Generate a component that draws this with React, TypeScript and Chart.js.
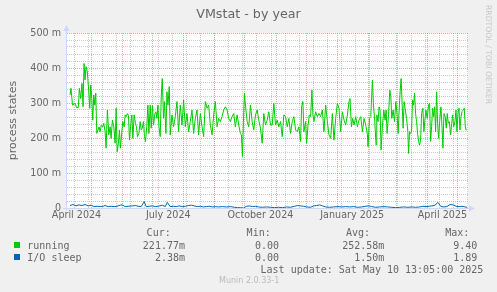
import React, { useEffect, useRef } from 'react';
import { Chart, registerables } from 'chart.js';

Chart.register(...registerables);

// ---- data (x = days since 1 April 2024, y = milli process states) ----
const RUN_DAYS = [
  8.5, 9.5, 11, 13.5, 15, 16.8, 17.8, 19.2, 20.5, 21.5, 22.5, 23.5, 24.5, 25.8, 27.2, 28.2, 29.2, 30.2, 31.2, 32.2,
  33.2, 34.2, 35.2, 36.5, 37.5, 38.5, 39.8, 41.2, 42.2, 43.5, 44.5, 45.8, 47.2, 48.5, 49.5, 50.8, 52.2, 53.5, 54.5, 55.5,
  56.8, 57.8, 58.8, 60.2, 61.2, 62.5, 63.5, 64.5, 65.8, 66.8, 67.8, 69.2, 70.2, 71.2, 72.5, 73.8, 74.8, 75.8, 77.2, 78.5,
  79.5, 80.5, 81.8, 82.8, 83.8, 85.2, 86.2, 87.2, 88.5, 89.5, 90.8, 91.8, 93.2, 94.2, 95.2, 96.2, 97.2, 98.5, 99.5, 100.5,
  101.8, 102.8, 104.2, 105.2, 106.2, 107.5, 108.5, 110.2, 111.8, 113.5, 115.2, 116.8, 118.5, 120.2, 121.8, 123.5, 125.2, 126.8, 128.5, 130.2,
  131.8, 133.5, 135.2, 136.8, 138.5, 140.2, 141.8, 143.5, 145.2, 146.8, 148.5, 150.2, 151.8, 153.5, 155.2, 156.8, 158.5, 160.2, 161.8, 163.5,
  165.2, 166.8, 168.5, 170.2, 171.8, 173.5, 175.2, 176.8, 178.5, 179.5, 180.5, 181.5, 182.5, 183.5, 185.2, 186.8, 188.5, 190.2, 191.8, 193.5,
  195.2, 196.8, 198.5, 200.2, 201.8, 203.5, 205.2, 206.8, 208.5, 210.2, 211.8, 213.5, 215.2, 216.8, 218.5, 220.2, 221.8, 223.5, 225.2, 226.8,
  228.5, 230.2, 231.8, 233.5, 235.2, 236.8, 238.5, 239.5, 240.8, 241.8, 243.5, 244.5, 245.8, 247.2, 248.5, 249.8, 250.8, 251.8, 253.5, 255.2,
  256.8, 258.5, 260.2, 261.8, 263.5, 265.2, 266.8, 268.5, 270.2, 271.8, 273.5, 275.2, 276.8, 278.5, 280.2, 281.8, 283.5, 285.2, 286.8, 287.8,
  289.2, 290.5, 291.8, 293.5, 295.2, 296.8, 298.5, 300.2, 301.8, 303.5, 305.2, 305.8, 307.2, 308.5, 310.2, 311.2, 312.5, 313.8, 314.5, 315.8,
  316.8, 317.8, 318.8, 320.2, 321.5, 322.8, 323.8, 324.8, 326.2, 327.5, 328.5, 329.5, 330.8, 332.2, 333.5, 334.8, 335.8, 336.8, 337.8, 338.8,
  339.8, 340.8, 341.8, 342.8, 344.2, 345.5, 346.2, 347.2, 348.2, 349.2, 350.2, 351.2, 352.2, 353.2, 354.2, 355.2, 356.2, 357.2, 358.2, 359.2,
  360.5, 361.5, 362.5, 363.5, 364.8, 366.2, 367.2, 368.2, 369.2, 370.2, 371.2, 372.2, 373.2, 374.2, 375.2, 376.2, 377.2, 378.5, 379.5, 380.5,
  381.5, 382.8, 383.8, 384.8, 385.8, 386.8, 388.2, 389.2, 390.2, 391.2, 392.5, 393.5, 394.5, 395.5, 396.5, 397.5, 398.5, 399.5, 400.8, 401.8,
  402.8, 403.8,
];
const RUNNING = [
  323, 342, 294, 299, 287, 287, 342, 313, 356, 289, 413, 366, 404, 389, 332, 285, 351, 313, 251, 323,
  294, 328, 213, 223, 232, 218, 237, 232, 242, 218, 171, 280, 209, 232, 199, 251, 232, 185, 285, 161,
  185, 223, 171, 218, 247, 232, 266, 261, 270, 264, 194, 242, 266, 199, 266, 242, 232, 204, 213, 247,
  223, 228, 247, 204, 190, 237, 294, 213, 294, 228, 294, 237, 270, 275, 256, 294, 232, 204, 318, 370,
  256, 304, 213, 332, 294, 347, 209, 266, 232, 261, 304, 218, 294, 237, 309, 232, 270, 218, 247, 280,
  213, 256, 280, 209, 270, 232, 204, 304, 285, 294, 237, 209, 266, 304, 232, 256, 247, 261, 280, 289,
  280, 256, 247, 261, 270, 232, 266, 237, 213, 209, 147, 247, 328, 294, 247, 232, 294, 247, 223, 266,
  280, 251, 228, 185, 270, 237, 251, 275, 237, 237, 299, 237, 251, 232, 247, 204, 266, 261, 232, 256,
  213, 247, 261, 223, 218, 232, 190, 289, 304, 218, 247, 185, 232, 266, 261, 337, 266, 247, 275, 261,
  270, 261, 280, 218, 294, 247, 209, 199, 270, 194, 256, 299, 285, 218, 275, 251, 237, 266, 304, 313,
  232, 256, 237, 261, 232, 251, 261, 218, 256, 237, 209, 175, 256, 261, 366, 294, 247, 180, 266, 247,
  289, 280, 166, 237, 280, 251, 280, 213, 266, 337, 318, 256, 280, 247, 304, 266, 213, 280, 332, 370,
  299, 228, 304, 285, 256, 218, 156, 218, 213, 218, 309, 294, 328, 270, 247, 213, 190, 180, 194, 270,
  285, 218, 251, 280, 256, 294, 299, 190, 232, 285, 261, 289, 218, 332, 242, 199, 247, 289, 237, 171,
  270, 261, 228, 270, 242, 247, 209, 242, 266, 232, 247, 280, 218, 270, 285, 223, 261, 275, 280, 285,
  232, 222,
];

const IO_DAYS = [
  8.5, 11.5, 14.5, 17.5, 20.5, 23.5, 26.5, 29.5, 32.5, 35.5, 38.5, 41.5, 43.5, 46.5, 49.5, 52.5, 55.5, 58.5, 60.5, 63.5,
  66.5, 70.5, 73.5, 76.5, 79.5, 82.5, 84.5, 87.5, 90.5, 93.5, 96.5, 100.5, 103.5, 105.5, 108.5, 111.5, 114.5, 117.5, 120.5, 123.5,
  126.5, 129.5, 132.5, 135.5, 138.5, 141.5, 144.5, 147.5, 150.5, 153.5, 156.5, 160.5, 164.5, 168.5, 172.5, 175.5, 178.5, 181.5, 184.5, 187.5,
  190.5, 193.5, 196.5, 200.5, 204.5, 208.5, 212.5, 216.5, 220.5, 224.5, 228.5, 232.5, 235.5, 238.5, 241.5, 244.5, 248.5, 251.5, 254.5, 257.5,
  260.5, 263.5, 267.5, 271.5, 275.5, 279.5, 283.5, 287.5, 291.5, 295.5, 299.5, 303.5, 306.5, 309.5, 313.5, 317.5, 321.5, 325.5, 329.5, 333.5,
  337.5, 341.5, 345.5, 349.5, 353.5, 357.5, 360.5, 363.5, 366.5, 369.5, 372.5, 375.5, 378.5, 381.5, 384.5, 387.5, 390.5, 393.5, 396.5, 399.5,
  402.5, 404.5,
];
const IO_SLEEP = [
  7, 10, 6, 9, 7, 10, 6, 8, 4, 5, 4, 5, 7, 4, 5, 4, 5, 8, 9, 4,
  5, 6, 7, 5, 4, 18, 4, 5, 6, 4, 5, 8, 4, 16, 4, 5, 4, 6, 4, 5,
  7, 8, 6, 4, 5, 3, 4, 5, 3, 4, 3, 4, 3, 4, 2, 1, 1, 0, 5, 6,
  4, 5, 3, 2, 3, 2, 1, 2, 1, 3, 2, 5, 7, 6, 5, 3, 2, 6, 7, 9,
  6, 3, 2, 3, 4, 3, 4, 3, 4, 2, 3, 5, 6, 4, 2, 3, 4, 3, 2, 1,
  2, 3, 2, 3, 2, 3, 5, 4, 5, 6, 8, 16, 4, 3, 4, 10, 9, 5, 4, 5,
  3, 2,
];

const X_MIN = 5.5;
const X_MAX = 405.5;
const MONTH_STARTS = [30, 61, 91, 122, 153, 183, 214, 244, 275, 306, 334, 365, 395];
const MINOR_DAYS = [13, 27, 41, 55, 69, 83, 97, 111, 125, 139, 153, 167, 181, 195, 209, 223, 237, 251, 265, 279, 293, 307, 321, 335, 349, 363, 377, 391, 405];
const X_TICK_DAYS = [15, 106.5, 198.5, 290, 380];
const X_TICK_LABELS = ['April 2024', 'July 2024', 'October 2024', 'January 2025', 'April 2025'];
const Y_MAX = 500;
const Y_MAJOR = 100;
const Y_MINOR = 20;

const SERIES_NAMES = ['running', 'I/O sleep'];
const SERIES_COLORS = ['#00cc00', '#0066b3'];
const CUR = ['221.77m', '2.38m'];
const MIN = ['0.00', '0.00'];
const AVG = ['252.58m', '1.50m'];
const MAX = ['9.40', '1.89'];

const FONT_COLOR = '#666666';
const AXIS_COLOR = '#cfd6f8';

const muninPlugin = {
  id: 'muninFrame',
  beforeDraw(chart: any) {
    const { ctx, chartArea: a, scales } = chart;
    const x = scales.x;
    const y = scales.y;
    ctx.save();
    ctx.fillStyle = '#f0f0f0';
    ctx.fillRect(0, 0, chart.width, chart.height);
    ctx.fillStyle = '#ffffff';
    ctx.fillRect(a.left, a.top, a.right - a.left, a.bottom - a.top);
    ctx.lineWidth = 1;
    const hline = (v: number) => {
      const py = Math.floor(y.getPixelForValue(v)) + 0.5;
      ctx.beginPath();
      ctx.moveTo(a.left, py);
      ctx.lineTo(a.right, py);
      ctx.stroke();
    };
    const vline = (d: number) => {
      const px = Math.floor(x.getPixelForValue(d)) + 0.5;
      if (px < a.left || px > a.right) return;
      ctx.beginPath();
      ctx.moveTo(px, a.top);
      ctx.lineTo(px, a.bottom);
      ctx.stroke();
    };
    ctx.setLineDash([1, 1]);
    ctx.strokeStyle = 'rgba(160,160,160,0.55)';
    for (let v = Y_MINOR; v < Y_MAX; v += Y_MINOR) if (v % Y_MAJOR !== 0) hline(v);
    MINOR_DAYS.forEach(vline);
    ctx.strokeStyle = 'rgba(228,90,90,0.55)';
    for (let v = Y_MAJOR; v <= Y_MAX; v += Y_MAJOR) hline(v);
    MONTH_STARTS.forEach(vline);
    ctx.restore();
  },
  afterDatasetsDraw(chart: any) {
    const { ctx, chartArea: a } = chart;
    ctx.save();
    ctx.strokeStyle = AXIS_COLOR;
    ctx.fillStyle = AXIS_COLOR;
    ctx.lineWidth = 1;
    const lx = a.left - 0.5;
    const by = a.bottom + 0.5;
    ctx.beginPath();
    ctx.moveTo(lx, a.bottom + 3);
    ctx.lineTo(lx, a.top - 4);
    ctx.moveTo(a.left - 4, by);
    ctx.lineTo(a.right + 2, by);
    ctx.stroke();
    ctx.beginPath();
    ctx.moveTo(lx - 3, a.top - 2);
    ctx.lineTo(lx + 3, a.top - 2);
    ctx.lineTo(lx, a.top - 8);
    ctx.closePath();
    ctx.fill();
    ctx.beginPath();
    ctx.moveTo(a.right + 1, by - 3);
    ctx.lineTo(a.right + 1, by + 3);
    ctx.lineTo(a.right + 7, by);
    ctx.closePath();
    ctx.fill();
    ctx.restore();
  },
};

const mono: React.CSSProperties = {
  position: 'absolute',
  fontFamily: '"DejaVu Sans Mono", monospace',
  fontSize: 10,
  lineHeight: '12px',
  color: FONT_COLOR,
  whiteSpace: 'pre',
};

function RightText({ end, top, text }: { end: number; top: number; text: string }) {
  return <div style={{ ...mono, right: 497 - end, top }}>{text}</div>;
}

export default function App() {
  const ref = useRef<HTMLCanvasElement>(null);
  useEffect(() => {
    const chart = new Chart(ref.current as HTMLCanvasElement, {
      type: 'line',
      data: {
        datasets: [
          {
            label: SERIES_NAMES[1],
            data: IO_DAYS.map((d, i) => ({ x: d, y: IO_SLEEP[i] })),
            borderColor: SERIES_COLORS[1],
            borderWidth: 1,
            pointRadius: 0,
            tension: 0,
            fill: false,
          },
          {
            label: SERIES_NAMES[0],
            data: RUN_DAYS.map((d, i) => ({ x: d, y: RUNNING[i] })),
            borderColor: SERIES_COLORS[0],
            borderWidth: 1,
            pointRadius: 0,
            tension: 0,
            fill: false,
          },
        ],
      },
      options: {
        animation: false,
        responsive: false,
        devicePixelRatio: 1,
        layout: { padding: { top: 33, right: 29, bottom: 0, left: 0 } },
        plugins: { legend: { display: false }, tooltip: { enabled: false }, title: { display: false } },
        scales: {
          x: {
            type: 'linear',
            min: X_MIN,
            max: X_MAX,
            afterFit: (s: any) => { s.height = 84; },
            afterBuildTicks: (s: any) => { s.ticks = X_TICK_DAYS.map((v) => ({ value: v })); },
            grid: { display: false, drawTicks: false, tickLength: 0 },
            border: { display: false },
            ticks: {
              autoSkip: false,
              maxRotation: 0,
              padding: 2,
              color: FONT_COLOR,
              font: { family: '"DejaVu Sans"', size: 9.6 },
              callback: (_v: any, i: number) => X_TICK_LABELS[i],
            },
          },
          y: {
            type: 'linear',
            min: 0,
            max: Y_MAX,
            afterFit: (s: any) => { s.width = 67; },
            grid: { display: false, drawTicks: false, tickLength: 0 },
            border: { display: false },
            ticks: {
              stepSize: Y_MAJOR,
              padding: 6,
              color: FONT_COLOR,
              font: { family: '"DejaVu Sans"', size: 9.6 },
              callback: (v: any) => (v === 0 ? '0' : `${v} m`),
            },
            title: {
              display: true,
              text: 'process states',
              color: FONT_COLOR,
              font: { family: '"DejaVu Sans"', size: 11 },
              padding: { top: 7, bottom: 0 },
            },
          },
        },
      },
      plugins: [muninPlugin],
    } as any);
    return () => chart.destroy();
  }, []);

  const rows = [239.7, 251.7];
  return (
    <div style={{ position: 'absolute', left: 0, top: 0, width: 497, height: 292, background: '#f0f0f0', overflow: 'hidden' }}>
      <canvas ref={ref} width={497} height={292} style={{ position: 'absolute', left: 0, top: 0, width: 497, height: 292 }} />
      <div style={{ position: 'absolute', left: 0, top: 5.8, width: 497, textAlign: 'center', fontFamily: '"DejaVu Sans", sans-serif', fontSize: 12.7, lineHeight: '15px', color: FONT_COLOR }}>
        VMstat - by year
      </div>
      <div style={{ position: 'absolute', left: 483, top: 5, writingMode: 'vertical-rl', fontFamily: '"DejaVu Sans", sans-serif', fontSize: 7.7, lineHeight: '10px', color: '#c8c8c8', whiteSpace: 'nowrap' }}>
        RRDTOOL / TOBI OETIKER
      </div>
      <RightText end={170.7} top={227.3} text="Cur:" />
      <RightText end={270.7} top={227.3} text="Min:" />
      <RightText end={370} top={227.3} text="Avg:" />
      <RightText end={469.3} top={227.3} text="Max:" />
      {SERIES_NAMES.map((name, i) => (
        <React.Fragment key={name}>
          <div style={{ position: 'absolute', left: 14, top: rows[i] + 2.6, width: 6, height: 6, background: SERIES_COLORS[i] }} />
          <div style={{ ...mono, left: 27.3, top: rows[i] }}>{name}</div>
          <RightText end={185} top={rows[i]} text={CUR[i]} />
          <RightText end={279} top={rows[i]} text={MIN[i]} />
          <RightText end={384.3} top={rows[i]} text={AVG[i]} />
          <RightText end={477.3} top={rows[i]} text={MAX[i]} />
        </React.Fragment>
      ))}
      <RightText end={483.3} top={263.7} text="Last update: Sat May 10 13:05:00 2025" />
      <div style={{ position: 'absolute', left: 219, top: 276, fontFamily: '"DejaVu Sans", sans-serif', fontSize: 8, lineHeight: '10px', color: '#bbbbbb', whiteSpace: 'nowrap' }}>
        Munin 2.0.33-1
      </div>
    </div>
  );
}
